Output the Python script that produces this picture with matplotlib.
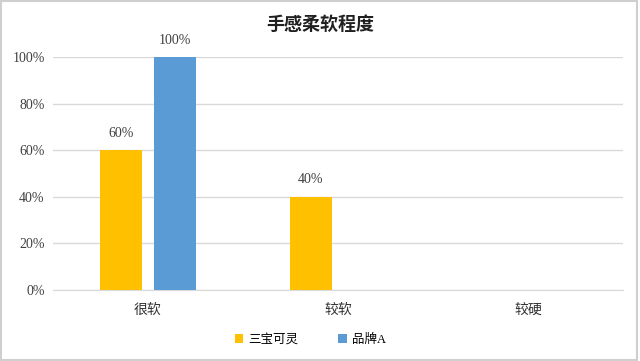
import numpy as np
import matplotlib.pyplot as plt
from matplotlib.patches import Rectangle

plt.rcParams["font.family"] = ["Liberation Serif", "Noto Sans CJK SC"]

categories = ["很软", "较软", "较硬"]
series_names = ["三宝可灵", "品牌A"]
sanbao = [0.60, 0.40, None]
brand_a = [1.00, None, None]
colors = ["#FFC000", "#5B9BD5"]

fig = plt.figure(figsize=(6.4, 3.61), dpi=100)
ax = fig.add_axes([53 / 640, 1 - 290 / 361, 570 / 640, 233 / 361])

x = np.arange(len(categories))
width = 0.22
offsets = [-0.143, 0.143]
for vals, off, col, name in zip([sanbao, brand_a], offsets, colors, series_names):
    xs = [xi + off for xi, v in zip(x, vals) if v is not None]
    ys = [v for v in vals if v is not None]
    bars = ax.bar(xs, ys, width=width, color=col, label=name, zorder=3)
    for b, v in zip(bars, ys):
        ax.text(b.get_x() + b.get_width() / 2, v + 0.045, f"{v:.0%}",
                ha="center", va="bottom", fontsize=10, color="#404040")

ax.set_xlim(-0.5, len(categories) - 0.5)
ax.set_ylim(0, 1.0)
ax.set_yticks(np.arange(0, 1.01, 0.2))
ax.set_yticklabels([f"{t:.0%}" for t in np.arange(0, 1.01, 0.2)])
ax.set_xticks(x)
ax.set_xticklabels(categories)
ax.grid(axis="y", color="#D9D9D9", linewidth=1, zorder=0)
for s in ["top", "right", "left"]:
    ax.spines[s].set_visible(False)
ax.spines["bottom"].set_color("#D9D9D9")
ax.tick_params(axis="both", length=0, labelsize=10, colors="#404040")
ax.tick_params(axis="x", pad=10, labelsize=10, labelcolor="#303030")
ax.tick_params(axis="y", pad=6)

fig.text(0.5, 1 - 25 / 361, "手感柔软程度", ha="center", va="center",
         fontsize=13, fontweight="bold", color="#202020")

fig.legend(loc="center", bbox_to_anchor=(0.485, 1 - 340 / 361), ncol=2,
           frameon=False, fontsize=9, handlelength=0.7, handleheight=0.7,
           columnspacing=3.2, handletextpad=0.4)

fig.patches.append(Rectangle((0.002, 0.004), 0.994, 0.992, transform=fig.transFigure,
                             fill=False, edgecolor="#CFCFCF", linewidth=1.5))

fig.savefig("out.png", dpi=100)
